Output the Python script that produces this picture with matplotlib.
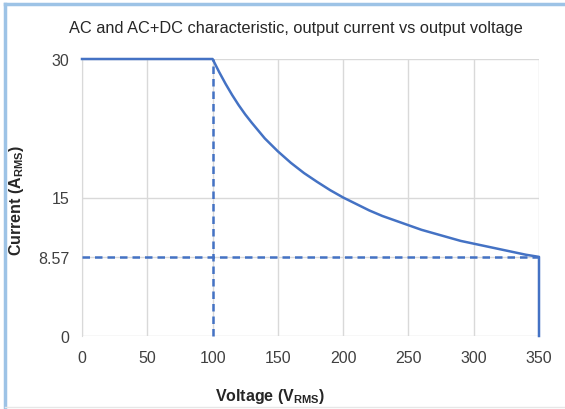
import matplotlib.pyplot as plt
from matplotlib.lines import Line2D

plt.rcParams['font.family'] = ['Liberation Sans', 'DejaVu Sans']
plt.rcParams['mathtext.fontset'] = 'custom'
plt.rcParams['mathtext.bf'] = 'Liberation Sans:bold'
plt.rcParams['mathtext.rm'] = 'Liberation Sans'

# output characteristic (V_RMS, A_RMS)
voltage = [0, 100, 105, 110, 115, 120, 125, 130, 140, 150, 160, 170, 180, 190, 200, 210, 220, 230,
           240, 250, 260, 270, 280, 290, 300, 310, 320, 330, 340, 350, 350]
current = [30, 30, 28.6, 27.3, 26.1, 25.0, 24.0, 23.1, 21.4, 20.0, 18.75, 17.65, 16.7, 15.8, 15.0,
           14.3, 13.6, 13.0, 12.5, 12.0, 11.5, 11.1, 10.7, 10.3, 10.0, 9.7, 9.4, 9.1, 8.8, 8.57, 0]

knee_v = 100
min_i = 8.57
max_v = 350

xticks = [0, 50, 100, 150, 200, 250, 300, 350]
yticks = [0, 8.57, 15, 30]
ytick_labels = ['0', '8.57', '15', '30']

blue = '#4472C4'
grid_c = '#d9d9d9'
text_c = '#404040'

W, H = 565, 410
fig = plt.figure(figsize=(W / 100, H / 100), dpi=100)
ax = fig.add_axes([82 / W, 1 - 337 / H, (539 - 82) / W, (337 - 60) / H])

ax.plot(voltage, current, color=blue, lw=1.8, zorder=3, clip_on=False)
ax.plot([knee_v, knee_v], [0, 30], color=blue, lw=1.8, ls=(0, (3, 2)), zorder=3, clip_on=False)
ax.plot([0, max_v], [min_i, min_i], color=blue, lw=1.8, ls=(0, (3, 2)), zorder=3, clip_on=False)

ax.set_xlim(0, 350)
ax.set_ylim(0, 30)
ax.set_xticks(xticks)
ax.set_yticks(yticks)
ax.set_yticklabels(ytick_labels)
ax.tick_params(length=0, labelsize=11.5, colors=text_c)
ax.tick_params(axis='y', pad=9)
ax.tick_params(axis='x', pad=10)
ax.grid(True, color=grid_c, lw=1)
ax.set_axisbelow(True)
for s in ax.spines.values():
    s.set_visible(False)
ax.spines['left'].set_visible(True)
ax.spines['left'].set_color(grid_c)

fig.text(270 / W, 1 - 397 / H, r'Voltage ($\mathbf{V_{RMS}}$)', ha='center', va='center',
         fontsize=11.5, fontweight='bold', color='#262626')
fig.text(17 / W, 1 - 200 / H, r'Current ($\mathbf{A_{RMS}}$)', ha='center', va='center', rotation=90,
         fontsize=11.5, fontweight='bold', color='#262626')

fig.text(296 / W, 1 - 28 / H, 'AC and AC+DC characteristic, output current vs output voltage',
         ha='center', va='center', fontsize=11.8, color='#262626')

# light border around the chart
fig.add_artist(Line2D([5 / W, 5 / W], [0, 1 - 5 / H], color='#9dc3e6', lw=2.5, transform=fig.transFigure))
fig.add_artist(Line2D([5 / W, 1], [1 - 5 / H, 1 - 5 / H], color='#9dc3e6', lw=2.5, transform=fig.transFigure))
fig.add_artist(Line2D([5 / W, 1], [2 / H, 2 / H], color='#e7e7e7', lw=1, transform=fig.transFigure))

fig.savefig('out.png', dpi=100)
